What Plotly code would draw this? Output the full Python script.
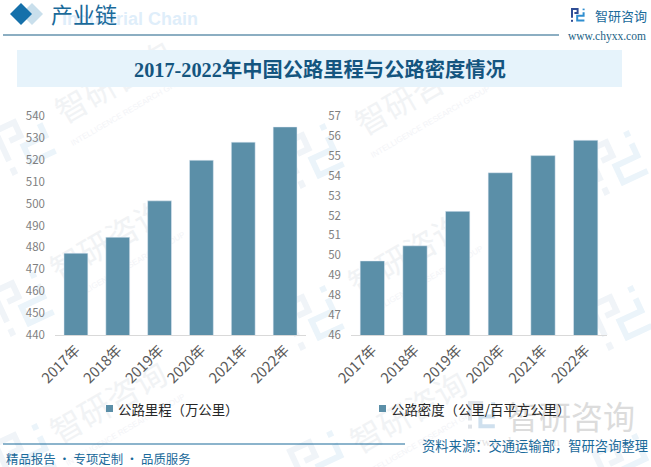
import math
import plotly.graph_objects as go

W, H = 651, 467

years = ['2017年', '2018年', '2019年', '2020年', '2021年', '2022年']
mileage = [477.35, 484.65, 501.25, 519.81, 528.07, 535.0]
density = [49.72, 50.48, 52.21, 54.15, 55.01, 55.78]
mileage_name = '公路里程（万公里）'
density_name = '公路密度（公里/百平方公里）'

bar_color = '#5b8fa8'
blue = '#1a6a9a'
serif = 'Liberation Serif, Noto Sans CJK SC'
sans = 'Noto Sans CJK SC, sans-serif'


def px(x):
    return x / W


def py(y):
    return 1 - y / H


def note(text, x, y, size, color, family=sans, anchor='left', bold=False):
    if bold:
        text = '<b>' + text + '</b>'
    fig.add_annotation(text=text, x=px(x), y=py(y), xref='paper', yref='paper',
                       xanchor=anchor, yanchor='middle', showarrow=False,
                       font=dict(size=size, color=color, family=family))


def back_text(text, x, y, size, color, angle, family=sans):
    # shape labels stay under the bars, annotations would not
    fig.add_shape(type='rect', xref='paper', yref='paper', x0=px(x - 1), x1=px(x + 1),
                  y0=py(y + 1), y1=py(y - 1), fillcolor='rgba(0,0,0,0)', line_width=0, layer='below',
                  label=dict(text=text, textangle=angle, textposition='middle center',
                             font=dict(size=size, color=color, family=family)))


def box(x0, y0, x1, y1, color):
    fig.add_shape(type='rect', xref='paper', yref='paper', x0=px(x0), x1=px(x1),
                  y0=py(y0), y1=py(y1), fillcolor=color, line_width=0, layer='below')


def diamond(cx, cy, r, color):
    path = 'M %f %f L %f %f L %f %f L %f %f Z' % (
        px(cx - r), py(cy), px(cx), py(cy - r), px(cx + r), py(cy), px(cx), py(cy + r))
    fig.add_shape(type='path', xref='paper', yref='paper', path=path,
                  fillcolor=color, line_width=0, layer='below')


def logo_line(points, cx, cy, scale, angle, color, width):
    a = math.radians(angle)
    parts = []
    for i, (lx, ly) in enumerate(points):
        dx, dy = (lx - 17) * scale, (ly - 17) * scale
        x = cx + dx * math.cos(a) + dy * math.sin(a)
        y = cy - dx * math.sin(a) + dy * math.cos(a)
        parts.append('%s %f %f' % ('L' if i else 'M', px(x), py(y)))
    fig.add_shape(type='path', xref='paper', yref='paper', path=' '.join(parts),
                  line=dict(color=color, width=width), layer='below')


def logo(cx, cy, scale, angle, dark, light, width):
    logo_line([(2, 24), (2, 2), (16, 2), (16, 12), (8, 12)], cx, cy, scale, angle, dark, width)
    logo_line([(2, 29), (2, 34)], cx, cy, scale, angle, dark, width)
    logo_line([(31, 1), (31, 5)], cx, cy, scale, angle, light, width)
    logo_line([(31, 10), (31, 19), (15, 19), (15, 31), (33, 31)], cx, cy, scale, angle, light, width)


fig = go.Figure()
fig.add_trace(go.Bar(x=years, y=mileage, name=mileage_name, marker_color=bar_color,
                     width=0.57, xaxis='x', yaxis='y'))
fig.add_trace(go.Bar(x=years, y=density, name=density_name, marker_color=bar_color,
                     width=0.57, xaxis='x2', yaxis='y2'))

xaxis_style = dict(tickangle=-45, tickfont=dict(size=14.5, color='#595959', family=sans),
                   showgrid=False, showline=True, linecolor='#d9d9d9', ticks='')
yaxis_style = dict(tickfont=dict(size=11.5, color='#7f7f7f', family=sans), showgrid=False,
                   showline=False, ticks='', ticklabelstandoff=9)

fig.update_layout(
    width=W, height=H, margin=dict(l=0, r=0, t=0, b=0, autoexpand=False), autosize=False,
    paper_bgcolor='white', plot_bgcolor='rgba(0,0,0,0)', showlegend=False,
    xaxis=dict(xaxis_style, domain=[px(55), px(306)], anchor='y'),
    xaxis2=dict(xaxis_style, domain=[px(351), px(607)], anchor='y2'),
    yaxis=dict(yaxis_style, domain=[py(335), py(116)], range=[440, 540], dtick=10, anchor='x'),
    yaxis2=dict(yaxis_style, domain=[py(335), py(116)], range=[46, 57], dtick=1, anchor='x2'),
)

# watermark behind the chart
wm_text = '#f1f3f5'
wm_sub = '#f3f4f7'
for x, y in [(115, 85), (415, 97), (110, 243), (408, 257), (110, 405), (410, 415)]:
    back_text('智研咨询', x, y, 32, wm_text, -30)
    back_text('INTELLIGENCE RESEARCH GROUP', x + 15, y + 24, 8, wm_sub, -30, family='Liberation Sans')
for x, y in [(25, 142), (313, 155), (617, 162), (23, 303), (313, 317), (621, 317), (25, 455), (320, 462), (625, 465)]:
    logo(x, y, 1.5, 25, '#f0f4f8', '#ebf4fa', 6)

# header
diamond(32, 14, 11, '#c9dfec')
diamond(21, 14, 11, '#1570aa')
note('Industrial Chain', 60, 19, 18, '#dfeefa', family='Liberation Sans', bold=True)
note('产业链', 49, 15, 22, blue, family=serif)
fig.add_shape(type='line', xref='paper', yref='paper', x0=px(3), x1=px(559), y0=py(35), y1=py(35),
              line=dict(color='#1a5f85', width=1.2))
box(17, 50, 622, 87, '#e6f3fb')
note('2017-2022年中国公路里程与公路密度情况', 320, 69, 20.3, '#14557f', family=serif, anchor='center', bold=True)

# logo top right
logo(578, 15, 0.4, 0, '#2f4d95', '#2f8ed0', 2)
note('智研咨询', 593, 15, 13, blue)
note('www.chyxx.com', 566, 36, 11.5, '#1a5f85', family=serif)

# big grey mark lower right
logo(482, 415, 0.8, 0, '#dfe3e8', '#cfe0ee', 4)
note('智研咨询', 505, 415, 32, '#dcdcdc')
note('www.chyxx.com', 470, 441, 13, '#e4e4e4', family=serif)

# legends
box(106, 405, 113, 412, bar_color)
note(mileage_name, 116, 409, 13.4, '#262626')
box(379, 405, 386, 412, bar_color)
note(density_name, 389, 409, 13.4, '#262626')

# footer
fig.add_shape(type='line', xref='paper', yref='paper', x0=px(3), x1=px(405), y0=py(444), y1=py(444),
              line=dict(color=blue, width=1.2))
note('精品报告 · 专项定制 · 品质服务', 4, 459, 12.4, blue)
note('资料来源：交通运输部，智研咨询整理', 420, 445, 13.3, blue)

fig.write_html('out.html', config=dict(displayModeBar=False), post_script="document.body.style.margin='0';")
